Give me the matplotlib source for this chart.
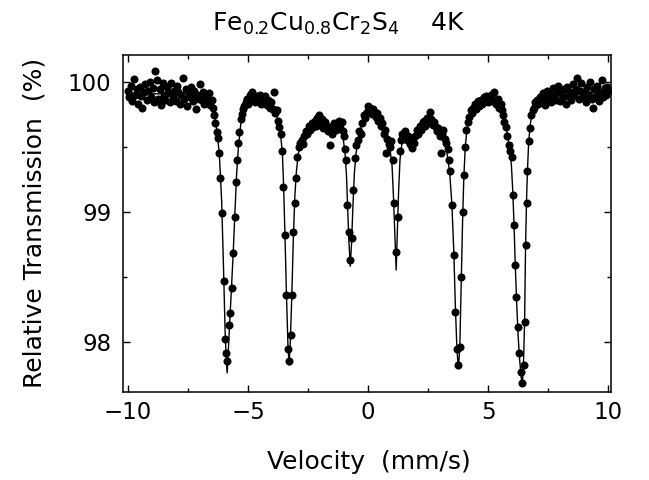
import matplotlib
matplotlib.use("Agg")
import matplotlib.pyplot as plt
from matplotlib.ticker import MultipleLocator

v_left = [-10.00, -9.94, -9.88, -9.82, -9.76, -9.70, -9.64, -9.58, -9.52, -9.46,
          -9.40, -9.34, -9.28, -9.22, -9.16, -9.10, -9.04, -8.98, -8.92, -8.86,
          -8.80, -8.74, -8.68, -8.62, -8.56, -8.50, -8.44, -8.38, -8.32, -8.26,
          -8.20, -8.14, -8.08, -8.02, -7.96, -7.90, -7.84, -7.78, -7.72, -7.66,
          -7.60, -7.54, -7.48, -7.42, -7.36, -7.30, -7.24, -7.18, -7.12, -7.06,
          -7.00, -6.94, -6.88, -6.82, -6.76, -6.70, -6.64, -6.58, -6.52]
t_left = [99.93, 99.88, 99.97, 99.85, 100.02, 99.90, 99.94, 99.83, 99.96, 99.89,
          99.80, 99.92, 99.98, 99.86, 99.93, 100.00, 99.88, 99.95, 99.84, 100.08,
          100.01, 99.87, 99.94, 99.82, 99.99, 99.90, 99.86, 99.96, 99.91, 99.84,
          99.99, 99.89, 99.93, 99.85, 99.97, 99.92, 99.83, 99.90, 100.03, 99.87,
          99.94, 99.81, 99.91, 99.88, 99.96, 99.85, 99.93, 99.79, 99.90, 99.87,
          99.98, 99.86, 99.92, 99.83, 99.89, 99.85, 99.91, 99.82, 99.86]

v_peak1 = [-6.46, -6.41, -6.36, -6.31, -6.26, -6.21, -6.15, -6.09, -6.02, -5.96,
           -5.91, -5.86, -5.81, -5.75, -5.69, -5.62, -5.56, -5.50, -5.46, -5.41,
           -5.36, -5.31, -5.26, -5.21, -5.16]
t_peak1 = [99.80, 99.74, 99.68, 99.61, 99.57, 99.45, 99.26, 98.99, 98.47, 98.02,
           97.91, 97.85, 98.13, 98.22, 98.41, 98.68, 98.96, 99.23, 99.40, 99.53,
           99.61, 99.71, 99.75, 99.79, 99.81]

v_hump1 = [-5.10, -5.05, -4.99, -4.93, -4.87, -4.82, -4.76, -4.70, -4.64, -4.58,
           -4.52, -4.46, -4.40, -4.34, -4.28, -4.22, -4.16, -4.10, -4.04, -3.98,
           -3.92, -3.86, -3.81]
t_hump1 = [99.84, 99.87, 99.83, 99.90, 99.86, 99.92, 99.88, 99.84, 99.89, 99.85,
           99.90, 99.83, 99.87, 99.85, 99.89, 99.82, 99.86, 99.80, 99.84, 99.79,
           99.92, 99.76, 99.78]

v_peak2 = [-3.75, -3.70, -3.64, -3.58, -3.53, -3.47, -3.41, -3.35, -3.29, -3.23,
           -3.17, -3.11, -3.06, -3.01, -2.95, -2.89, -2.83]
t_peak2 = [99.70, 99.65, 99.60, 99.47, 99.19, 98.82, 98.36, 97.94, 97.85, 98.05,
           98.36, 98.84, 99.07, 99.26, 99.42, 99.50, 99.53]

v_plateau = [-2.77, -2.71, -2.65, -2.59, -2.53, -2.47, -2.41, -2.35, -2.29, -2.23,
             -2.17, -2.11, -2.05, -1.99, -1.93, -1.87, -1.81, -1.75, -1.69, -1.63,
             -1.58, -1.52, -1.46, -1.40, -1.34, -1.28, -1.22, -1.16, -1.10, -1.05,
             -1.00, -0.95]
t_plateau = [99.55, 99.52, 99.58, 99.62, 99.60, 99.66, 99.63, 99.68, 99.65, 99.70,
             99.66, 99.72, 99.74, 99.67, 99.71, 99.64, 99.69, 99.66, 99.62, 99.65,
             99.51, 99.60, 99.64, 99.68, 99.63, 99.66, 99.70, 99.64, 99.69, 99.62,
             99.58, 99.48]

v_center = [-0.91, -0.86, -0.81, -0.74, -0.67, -0.61, -0.55, -0.49, -0.42, -0.36,
            -0.30, -0.24, -0.18, -0.12, -0.06, -0.01, 0.05, 0.10, 0.16, 0.21,
            0.26, 0.32, 0.38, 0.43, 0.49, 0.54, 0.60, 0.65, 0.70, 0.75,
            0.80, 0.86, 0.91, 0.96, 1.02, 1.09, 1.16, 1.24, 1.31]
t_center = [99.40, 99.05, 98.84, 98.63, 98.80, 99.17, 99.41, 99.51, 99.55, 99.62,
            99.60, 99.68, 99.74, 99.72, 99.77, 99.81, 99.78, 99.80, 99.75, 99.79,
            99.77, 99.73, 99.76, 99.70, 99.72, 99.66, 99.68, 99.60, 99.63, 99.45,
            99.56, 99.52, 99.50, 99.54, 99.40, 99.07, 98.69, 98.96, 99.47]

v_mid = [1.37, 1.43, 1.49, 1.55, 1.61, 1.67, 1.73, 1.79, 1.85, 1.91,
         1.97, 2.03, 2.09, 2.15, 2.21, 2.27, 2.33, 2.39, 2.45, 2.51,
         2.57, 2.63, 2.69, 2.75, 2.81, 2.87, 2.93, 2.99, 3.04, 3.09,
         3.14, 3.20, 3.25, 3.31]
t_mid = [99.55, 99.60, 99.57, 99.62, 99.55, 99.58, 99.52, 99.56, 99.49, 99.53,
         99.58, 99.63, 99.60, 99.66, 99.63, 99.69, 99.70, 99.66, 99.72, 99.68,
         99.77, 99.71, 99.67, 99.69, 99.65, 99.62, 99.64, 99.58, 99.45, 99.60,
         99.63, 99.56, 99.53, 99.48]

v_peak5 = [3.36, 3.42, 3.50, 3.58, 3.64, 3.70, 3.76, 3.83, 3.89, 3.95,
           3.99, 4.04, 4.10, 4.15, 4.21, 4.27, 4.33, 4.39]
t_peak5 = [99.40, 99.31, 99.05, 98.67, 98.23, 97.94, 97.82, 97.96, 98.50, 99.00,
           99.28, 99.50, 99.63, 99.69, 99.73, 99.78, 99.76, 99.80]

v_hump2 = [4.45, 4.51, 4.57, 4.63, 4.69, 4.75, 4.81, 4.87, 4.93, 4.99,
           5.05, 5.11, 5.17, 5.23, 5.29, 5.35, 5.41, 5.47, 5.52]
t_hump2 = [99.83, 99.79, 99.85, 99.81, 99.86, 99.83, 99.88, 99.85, 99.89, 99.84,
           99.87, 99.90, 99.85, 99.92, 99.86, 99.83, 99.87, 99.80, 99.83]

v_peak6 = [5.58, 5.63, 5.68, 5.74, 5.80, 5.86, 5.93, 5.99, 6.04, 6.08,
           6.13, 6.18, 6.24, 6.30, 6.36, 6.42, 6.48, 6.53, 6.56, 6.60,
           6.64, 6.69, 6.74, 6.79, 6.85, 6.91, 6.97, 7.03]
t_peak6 = [99.78, 99.74, 99.69, 99.65, 99.58, 99.51, 99.47, 99.42, 99.13, 98.90,
           98.59, 98.34, 98.11, 97.91, 97.77, 97.68, 97.82, 98.15, 98.74, 99.07,
           99.31, 99.54, 99.64, 99.74, 99.78, 99.80, 99.84, 99.86]

v_right = [7.09, 7.15, 7.21, 7.27, 7.33, 7.39, 7.45, 7.51, 7.57, 7.63,
           7.69, 7.75, 7.81, 7.87, 7.93, 7.99, 8.05, 8.11, 8.17, 8.23,
           8.29, 8.35, 8.41, 8.47, 8.53, 8.59, 8.65, 8.71, 8.77, 8.83,
           8.89, 8.95, 9.01, 9.07, 9.13, 9.19, 9.25, 9.31, 9.37, 9.43,
           9.49, 9.55, 9.61, 9.67, 9.73, 9.79, 9.85, 9.91, 9.97, 10.00]
t_right = [99.83, 99.88, 99.85, 99.91, 99.86, 99.82, 99.93, 99.87, 99.90, 99.84,
           99.95, 99.89, 99.86, 99.92, 99.97, 99.85, 99.91, 99.88, 99.94, 99.83,
           99.96, 99.89, 99.92, 99.86, 99.98, 99.90, 99.94, 100.03, 99.87, 99.93,
           99.99, 99.88, 99.92, 99.84, 99.96, 99.90, 100.00, 99.87, 99.80, 99.94,
           99.89, 99.97, 99.85, 99.92, 100.01, 99.88, 99.95, 99.90, 99.96, 99.93]

# fitted curve
fit_velocity = [-10.0, -7.0, -6.6, -6.5, -6.4, -6.3, -6.2, -6.1, -6.02, -5.96,
                -5.91, -5.87, -5.83, -5.78, -5.70, -5.62, -5.55, -5.48, -5.40, -5.30,
                -5.20, -5.00, -4.70, -4.30, -4.00, -3.85, -3.75, -3.65, -3.57, -3.52,
                -3.46, -3.40, -3.34, -3.29, -3.24, -3.18, -3.11, -3.05, -2.99, -2.92,
                -2.80, -2.60, -2.30, -2.00, -1.70, -1.40, -1.20, -1.05, -0.96, -0.90,
                -0.85, -0.80, -0.745, -0.69, -0.63, -0.57, -0.50, -0.40, -0.25, -0.05,
                0.15, 0.35, 0.55, 0.75, 0.92, 1.00, 1.06, 1.12, 1.17, 1.22,
                1.27, 1.33, 1.42, 1.60, 1.85, 2.10, 2.40, 2.65, 2.90, 3.10,
                3.28, 3.40, 3.49, 3.57, 3.64, 3.70, 3.76, 3.82, 3.88, 3.94,
                3.99, 4.05, 4.13, 4.25, 4.45, 4.80, 5.20, 5.45, 5.60, 5.75,
                5.88, 5.97, 6.03, 6.08, 6.13, 6.19, 6.25, 6.31, 6.37, 6.42,
                6.47, 6.52, 6.56, 6.60, 6.64, 6.69, 6.75, 6.82, 6.95, 7.20,
                8.00, 10.00]
fit_transmission = [99.91, 99.90, 99.87, 99.83, 99.74, 99.62, 99.45, 99.08, 98.55, 98.10,
                    97.86, 97.76, 97.90, 98.10, 98.38, 98.68, 98.98, 99.28, 99.50, 99.68,
                    99.78, 99.85, 99.87, 99.86, 99.82, 99.77, 99.70, 99.60, 99.45, 99.20,
                    98.80, 98.36, 97.98, 97.82, 98.00, 98.34, 98.82, 99.12, 99.30, 99.43,
                    99.54, 99.61, 99.66, 99.68, 99.66, 99.65, 99.64, 99.58, 99.45, 99.28,
                    99.02, 98.78, 98.58, 98.75, 99.05, 99.30, 99.45, 99.57, 99.68, 99.77,
                    99.77, 99.73, 99.65, 99.56, 99.47, 99.35, 99.10, 98.80, 98.55, 98.85,
                    99.15, 99.40, 99.54, 99.57, 99.56, 99.61, 99.67, 99.69, 99.64, 99.57,
                    99.46, 99.30, 99.06, 98.70, 98.25, 97.95, 97.79, 97.95, 98.45, 98.95,
                    99.27, 99.50, 99.65, 99.75, 99.81, 99.86, 99.87, 99.82, 99.76, 99.65,
                    99.50, 99.36, 99.15, 98.90, 98.60, 98.30, 98.05, 97.87, 97.74, 97.66,
                    97.80, 98.15, 98.72, 99.08, 99.32, 99.53, 99.66, 99.75, 99.82, 99.86,
                    99.90, 99.93]

title = "Fe$_{0.2}$Cu$_{0.8}$Cr$_2$S$_4$    4K"
x_ticks = [-10, -5, 0, 5, 10]
y_ticks = [98, 99, 100]


def plot():
    velocity = (v_left + v_peak1 + v_hump1 + v_peak2 + v_plateau + v_center
                + v_mid + v_peak5 + v_hump2 + v_peak6 + v_right)
    transmission = (t_left + t_peak1 + t_hump1 + t_peak2 + t_plateau + t_center
                    + t_mid + t_peak5 + t_hump2 + t_peak6 + t_right)
    assert len(velocity) == len(transmission)
    assert len(fit_velocity) == len(fit_transmission)

    fig = plt.figure(figsize=(6.49, 4.8), dpi=100)
    ax = fig.add_axes([0.1888, 0.1840, 0.7519, 0.7015])

    ax.plot(fit_velocity, fit_transmission, color="black", linewidth=1.0, zorder=2)
    ax.plot(velocity, transmission, "o", color="black", markersize=5.8,
            markeredgewidth=0, zorder=3)

    ax.set_xlim(-10.23, 10.10)
    ax.set_ylim(97.615, 100.205)
    ax.set_xticks(x_ticks)
    ax.set_yticks(y_ticks)
    ax.xaxis.set_minor_locator(MultipleLocator(2.5))
    ax.yaxis.set_minor_locator(MultipleLocator(0.5))
    ax.tick_params(which="both", direction="in", top=True, right=True, width=1.0)
    ax.tick_params(which="major", length=5, labelsize=16.5)
    ax.tick_params(which="minor", length=3)
    ax.tick_params(axis="x", pad=7)
    ax.tick_params(axis="y", pad=8)
    for spine in ax.spines.values():
        spine.set_linewidth(1.1)

    ax.set_xlabel("Velocity  (mm/s)", fontsize=18)
    ax.xaxis.set_label_coords(0.505, -0.172)
    ax.set_ylabel("Relative Transmission  (%)", fontsize=18)
    ax.yaxis.set_label_coords(-0.155, 0.5)

    fig.text(339 / 649, 1 - 31 / 480, title, ha="center", va="baseline", fontsize=18)

    fig.savefig("out.png", dpi=100)


if __name__ == "__main__":
    plot()
